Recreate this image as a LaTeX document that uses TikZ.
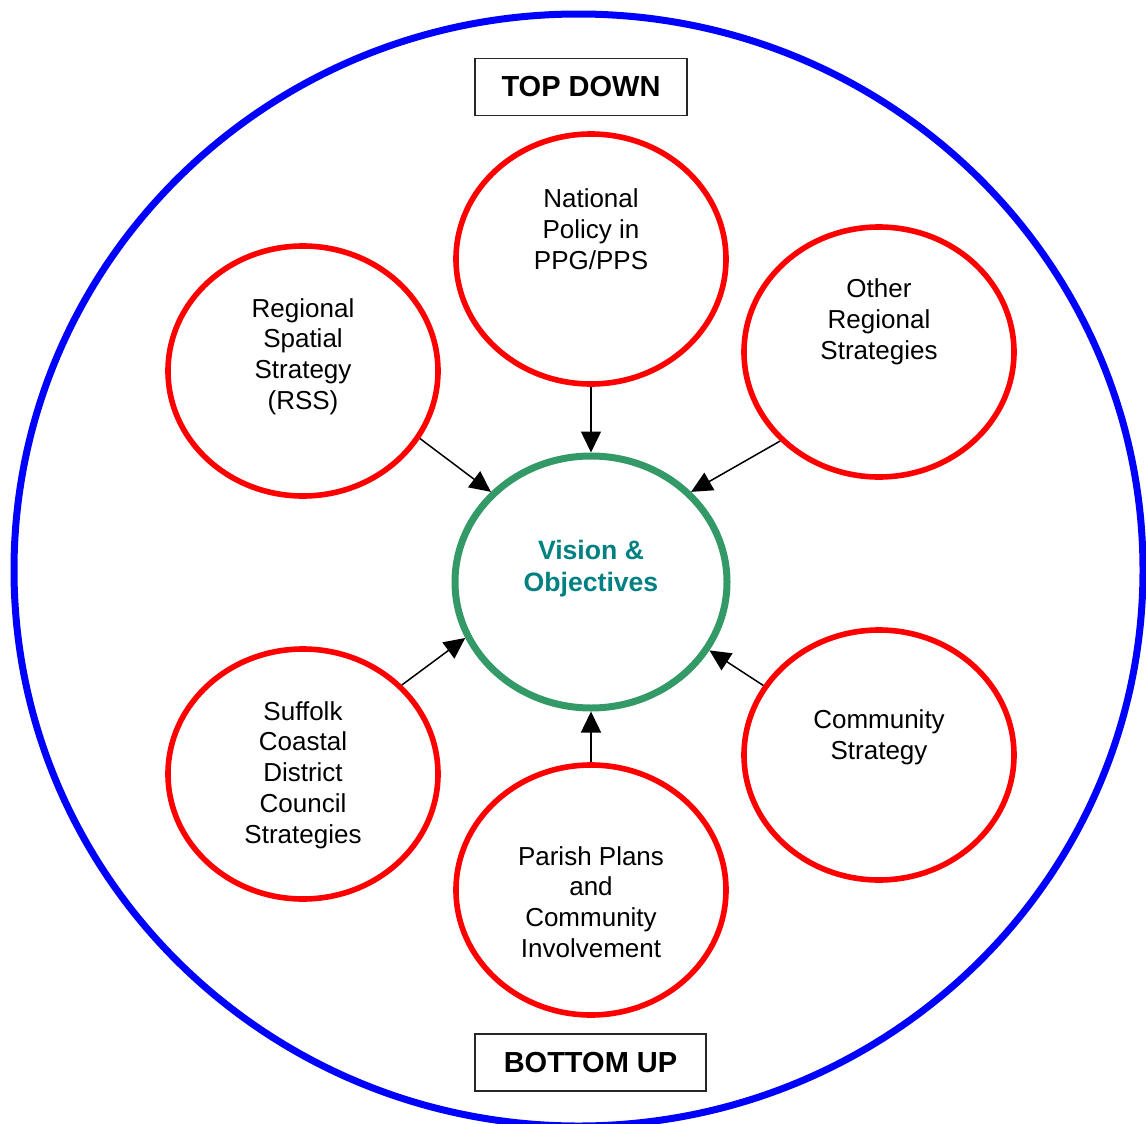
\documentclass[tikz,border=0pt]{standalone}
\usepackage{fontspec}
\setmainfont{Liberation Sans}
\usepackage{tikz}
\usepackage{xcolor}
\usetikzlibrary{arrows.meta,positioning,shapes.geometric}
\definecolor{visgreen}{RGB}{51,153,102}
\definecolor{visteal}{RGB}{0,128,128}
\tikzset{%
	source/.style  = {draw=red, line width=2.8pt, ellipse, inner sep=0pt, minimum width=135pt, minimum height=125pt},
	goal/.style    = {draw=visgreen, line width=3.5pt, ellipse, inner sep=0pt, minimum width=136pt, minimum height=126pt},
	banner/.style  = {draw=black!85, line width=0.8pt, rectangle, minimum height=28.5pt, font=\fontsize{14.5}{17}\selectfont\bfseries, text centered},
	txt/.style     = {align=center, inner sep=0pt, font=\fontsize{13}{15.4}\selectfont},
	arrow/.style   = {line width=0.75pt, -{Triangle[length=10.5pt,width=10pt]}},
}

\begin{document}
\begin{tikzpicture}[x=0.5pt,y=-0.5pt]
		\useasboundingbox (0,0) rectangle (1146,1124);
		
		% outer ring
		\draw[blue, line width=3.5pt] (578.5,570) ellipse [x radius=282.25pt, y radius=278pt];
		
		\node[banner, minimum width=106pt] (topdown) at (581,87) {TOP DOWN};
		\node[banner, minimum width=115.5pt] (bottomup) at (590.5,1062.5) {BOTTOM UP};
		
		% the six inputs
		\node[source] (national) at (591,259) {};
		\node[source] (rss) at (303,371) {};
		\node[source] (otherreg) at (879,352) {};
		\node[source] (suffolk) at (303,774) {};
		\node[source] (community) at (879,755) {};
		\node[source] (parish) at (591,890) {};
		\node[goal] (vision) at (591,582) {};
		
		\node[txt] (nationaltext) at (591,229) {National\\Policy in\\PPG/PPS};
		\node[txt] (rsstext) at (303,356.5) {Regional\\Spatial\\Strategy\\(RSS)};
		\node[txt] (otherregtext) at (879,322) {Other\\Regional\\Strategies};
		\node[txt] (suffolktext) at (303,775) {Suffolk\\Coastal\\District\\Council\\Strategies};
		\node[txt] (communitytext) at (879,737) {Community\\Strategy};
		\node[txt] (parishtext) at (591,902) {Parish Plans\\and\\Community\\Involvement};
		\node[txt, text=visteal, font=\fontsize{13.3}{16}\selectfont\bfseries] (visiontext) at (591,568.5) {Vision \&\\Objectives};
		
		\draw[arrow] (national.-90) -- (vision.90);
		\draw[arrow] (rss.-30) -- (vision.138);
		\draw[arrow] (otherreg.222) -- (vision.42);
		\draw[arrow] (suffolk.42) -- (vision.204);
		\draw[arrow] (community.149) -- (vision.-30);
		\draw[arrow] (parish.90) -- (vision.-90);
	\end{tikzpicture}
\end{document}
